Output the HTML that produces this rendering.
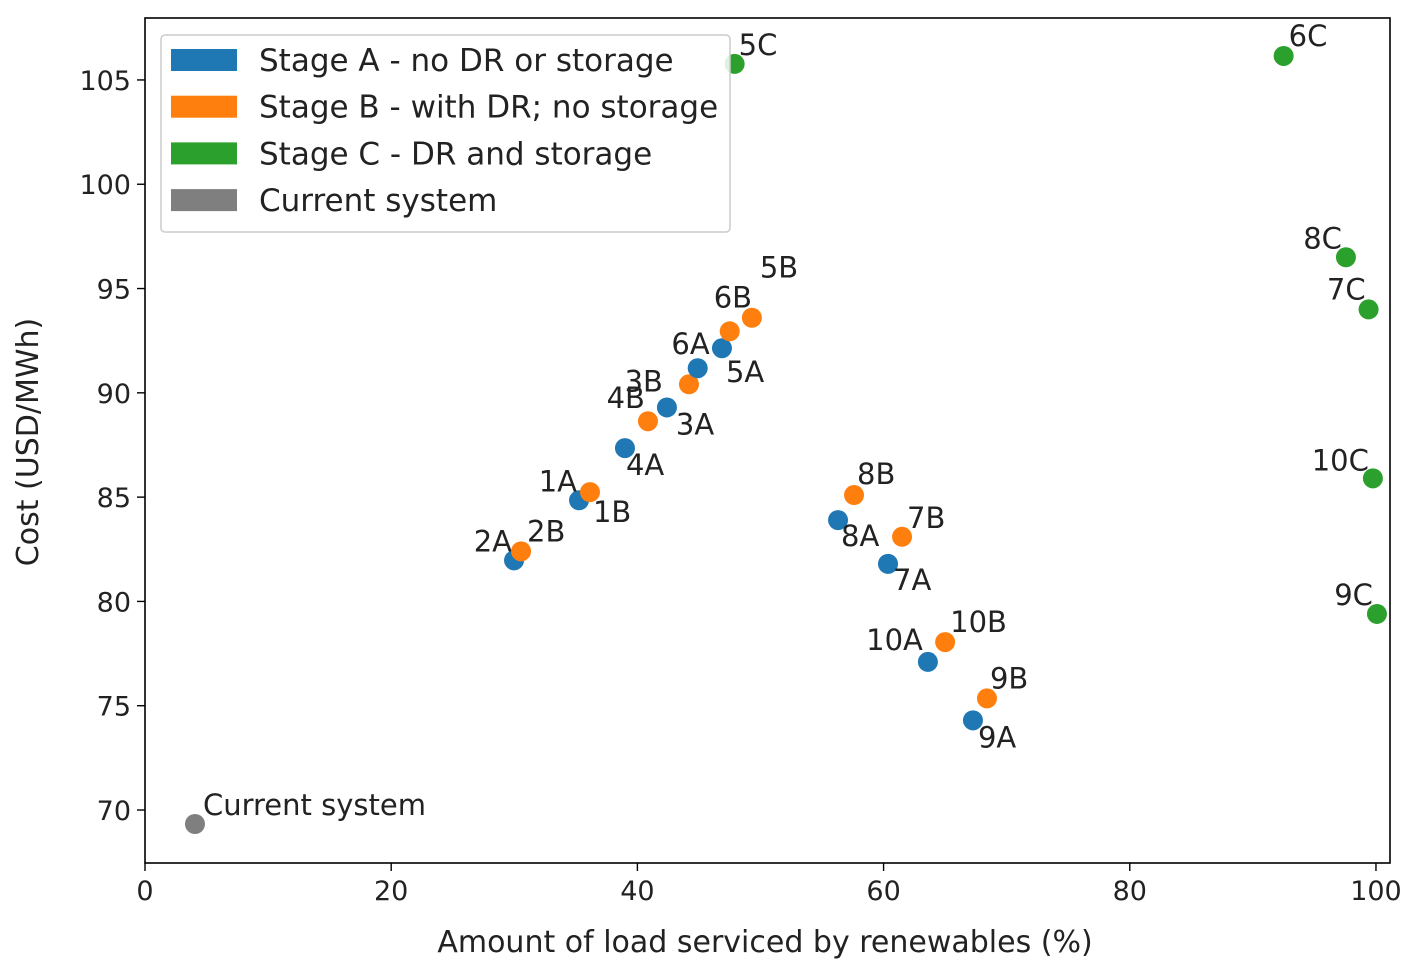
<!DOCTYPE html>
<html><head><meta charset="utf-8">
<style>
html,body{margin:0;padding:0;background:#fff;}
svg{display:block;font-family:"DejaVu Sans","Liberation Sans",sans-serif;}
</style></head>
<body>
<svg id="chart" width="1417" height="972" viewBox="0 0 1417 972"></svg>
<script>
const labels = ["Current system","2A","2B","1A","1B","4A","4B","3A","3B","6A","5A","6B","5B","5C","8A","8B","7A","7B","10A","10B","9A","9B","6C","8C","7C","10C","9C"];
const stages = ["D","A","B","A","B","A","B","A","B","A","A","B","B","C","A","B","A","B","A","B","A","B","C","C","C","C","C"];
const xValues = [4.06,29.98,30.55,35.26,36.15,38.99,40.86,42.4,44.19,44.9,46.87,47.5,49.3,47.9,56.3,57.6,60.36,61.5,63.6,65.0,67.26,68.4,92.5,97.56,99.4,99.75,100.08];
const yValues = [69.33,81.97,82.4,84.85,85.24,87.35,88.64,89.3,90.41,91.18,92.14,92.95,93.6,105.77,83.9,85.1,81.8,83.1,77.1,78.05,74.3,75.35,106.15,96.5,94.0,85.9,79.4];
const xTicks = [0,20,40,60,80,100];
const yTicks = [70,75,80,85,90,95,100,105];
const legendLabels = ["Stage A - no DR or storage","Stage B - with DR; no storage","Stage C - DR and storage","Current system"];

const colors = {A:"#1f77b4",B:"#ff7f0e",C:"#2ca02c",D:"#7f7f7f"};
const legendColors = ["#1f77b4","#ff7f0e","#2ca02c","#7f7f7f"];
const offs = [[8,-9,"start"],[-2,-9,"end"],[6,-10,"start"],[-2,-9,"end"],[3,30,"start"],[1,27,"start"],[-3,-13,"end"],[9,27,"start"],[-26,7,"end"],[12,-14,"end"],[4,34,"start"],[-16,-24,"start"],[8,-40,"start"],[4,-9,"start"],[3,26,"start"],[3,-11,"start"],[5,26,"start"],[5,-9,"start"],[-5,-12,"end"],[5,-10,"start"],[5,27,"start"],[3,-10,"start"],[5,-10,"start"],[-4,-9,"end"],[-3,-10,"end"],[-4,-8,"end"],[-4,-9,"end"]];

const L=145,R=1390,T=18,B=863;
const xMin=0,xMax=101.14,yMin=67.46,yMax=107.97;
const sx=v=>L+(v-xMin)/(xMax-xMin)*(R-L);
const sy=v=>B-(v-yMin)/(yMax-yMin)*(B-T);
const svg=document.getElementById('chart');
const NS="http://www.w3.org/2000/svg";
function mk(tag,attrs,parent){const e=document.createElementNS(NS,tag);for(const k in attrs)e.setAttribute(k,attrs[k]);(parent||svg).appendChild(e);return e;}

const frame=mk('rect',{x:L,y:T,width:R-L,height:B-T,fill:'none',stroke:'#000','stroke-width':1.6});



xTicks.forEach(t=>{
  const x=sx(t);
  const l=mk('line',{x1:x,x2:x,y1:B,y2:B+8,stroke:'#000','stroke-width':1.4});
  
  
  const tx=mk('text',{x:x,y:B+37,'text-anchor':'middle','font-size':27,fill:'#222'});
  tx.textContent=t;
  
  
});
yTicks.forEach(t=>{
  const y=sy(t);
  const l=mk('line',{x1:L-8,x2:L,y1:y,y2:y,stroke:'#000','stroke-width':1.4});
  
  
  const tx=mk('text',{x:L-14,y:y+10,'text-anchor':'end','font-size':27,fill:'#222'});
  tx.textContent=t;
  
  
});
const xl=mk('text',{x:765,y:952,'text-anchor':'middle','font-size':30,fill:'#222'});
xl.textContent="Amount of load serviced by renewables (%)";


const yl=mk('text',{x:0,y:0,'text-anchor':'middle','font-size':30,fill:'#222',transform:'translate(38,442) rotate(-90)'});
yl.textContent="Cost (USD/MWh)";



xValues.forEach((xv,i)=>{
  const cx=sx(xv),cy=sy(yValues[i]);
  const c=mk('circle',{cx:cx,cy:cy,r:10,fill:colors[stages[i]]});
  
  
  const o=offs[i];
  const t=mk('text',{x:cx+o[0],y:cy+o[1],'text-anchor':o[2],'font-size':29,fill:'#222'});
  t.textContent=labels[i];
  
  
});

const lg=mk('g',{});


mk('rect',{x:161,y:35,width:569,height:197,rx:4,fill:'#fff','fill-opacity':0.85,stroke:'#ccc','stroke-width':1.5},lg);
legendLabels.forEach((s,i)=>{
  const cy=60+i*46.7;
  const r=mk('rect',{x:171,y:cy-11,width:66,height:22,fill:legendColors[i]},lg);
  
  
  const t=mk('text',{x:259,y:cy+11,'font-size':31,fill:'#222'},lg);
  t.textContent=s;
  
  
});
</script>
</body></html>
